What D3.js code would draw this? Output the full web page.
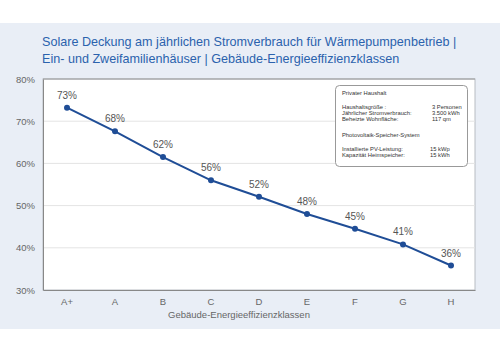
<!DOCTYPE html>
<html>
<head>
<meta charset="utf-8">
<script src="https://cdn.jsdelivr.net/npm/d3@7"></script>
<style>
  body { margin: 0; background: #fff; }
  svg { display: block; font-family: "Liberation Sans", Arial, sans-serif; }
</style>
</head>
<body>
<svg id="chart" width="500" height="353"></svg>
<script>
var classes = ["A+", "A", "B", "C", "D", "E", "F", "G", "H"];
var deckung = [73.2, 67.6, 61.5, 56.0, 52.1, 48.0, 44.5, 40.8, 35.8];
var yTicks = [30, 40, 50, 60, 70, 80];
var titleLines = ["Solare Deckung am jährlichen Stromverbrauch für Wärmepumpenbetrieb |",
                  "Ein- und Zweifamilienhäuser | Gebäude-Energieeffizienzklassen"];
var infoRows = [
  ["Privater Haushalt", ""],
  ["Haushaltsgröße   :", "3 Personen"],
  ["Jährlicher Stromverbrauch:", "3.500 kWh"],
  ["Beheizte Wohnfläche:", "117 qm"],
  ["Photovoltaik-Speicher-System", ""],
  ["Installierte PV-Leistung:", "15 kWp"],
  ["Kapazität Heimspeicher:", "15 kWh"]
];
var infoY = [95, 109, 115, 121, 137, 151, 157];

var svg = d3.select("#chart");
var plotL = 43, plotR = 475, plotT = 79, plotB = 290;

// background panel
svg.append("rect").attr("x", 0).attr("y", 23).attr("width", 500).attr("height", 306)
    .attr("fill", "#e9eef6");

svg.append("g").selectAll("text")
    .data(titleLines)
    .enter().append("text")
    .attr("x", 42)
    .attr("y", function(d, i) { return 46 + i * 17; })
    .attr("fill", "#2b62ad")
    .style("font-size", "12.6px")
    .text(function(d) { return d; });

var x = d3.scaleBand().domain(classes).range([plotL, plotR]);
var y = d3.scaleLinear().domain([30, 80]).range([plotB, plotT]);

svg.append("rect").attr("x", plotL).attr("y", plotT)
    .attr("width", plotR - plotL).attr("height", plotB - plotT)
    .attr("fill", "#fff").attr("stroke", "#b8bcc2").attr("stroke-width", 1);

// grid
svg.append("g").selectAll("line")
    .data(yTicks.slice(1, -1))
    .enter().append("line")
    .attr("x1", plotL).attr("x2", plotR)
    .attr("y1", function(d) { return y(d); })
    .attr("y2", function(d) { return y(d); })
    .attr("stroke", "#e4e4e4");

svg.append("line").attr("x1", plotL).attr("x2", plotR).attr("y1", plotT).attr("y2", plotT)
    .attr("stroke", "#999");

var yAxis = svg.append("g")
    .attr("transform", "translate(" + plotL + ",0)")
    .call(d3.axisLeft(y).tickValues(yTicks).tickSize(0).tickPadding(8)
        .tickFormat(function(d) { return d + "%"; }));
yAxis.select(".domain").attr("stroke", "#888");
yAxis.selectAll("text").attr("fill", "#666").style("font-size", "9.5px");

var xAxis = svg.append("g")
    .attr("transform", "translate(0," + plotB + ")")
    .call(d3.axisBottom(x).tickSize(0).tickPadding(8));
xAxis.select(".domain").attr("stroke", "#888");
xAxis.selectAll("text").attr("fill", "#666").style("font-size", "9.5px");

svg.append("text")
    .attr("x", 239).attr("y", 318)
    .attr("text-anchor", "middle")
    .attr("fill", "#666")
    .style("font-size", "9.5px")
    .text("Gebäude-Energieeffizienzklassen");

var pts = classes.map(function(c, i) { return { c: c, v: deckung[i] }; });

svg.append("path")
    .datum(pts)
    .attr("fill", "none")
    .attr("stroke", "#1f4d96")
    .attr("stroke-width", 2)
    .attr("d", d3.line()
        .x(function(d) { return x(d.c) + x.bandwidth() / 2; })
        .y(function(d) { return y(d.v); }));

svg.append("g").selectAll("circle")
    .data(pts)
    .enter().append("circle")
    .attr("cx", function(d) { return x(d.c) + x.bandwidth() / 2; })
    .attr("cy", function(d) { return y(d.v); })
    .attr("r", 3)
    .attr("fill", "#1f4d96");

svg.append("g").selectAll("text")
    .data(pts)
    .enter().append("text")
    .attr("x", function(d) { return x(d.c) + x.bandwidth() / 2; })
    .attr("y", function(d) { return y(d.v) - 9; })
    .attr("text-anchor", "middle")
    .attr("fill", "#555")
    .style("font-size", "10px")
    .text(function(d) { return Math.round(d.v) + "%"; });

// info box
svg.append("rect").attr("x", 335.5).attr("y", 85.5).attr("width", 132).attr("height", 81)
    .attr("rx", 4).attr("fill", "#fff").attr("stroke", "#999");

var info = svg.append("g").selectAll("g")
    .data(infoRows)
    .enter().append("g");
info.append("text")
    .attr("x", 342)
    .attr("y", function(d, i) { return infoY[i]; })
    .attr("fill", "#333")
    .style("font-size", "5.8px")
    .text(function(d) { return d[0]; });
info.append("text")
    .attr("x", function(d, i) { return i >= 5 ? 430 : 432; })
    .attr("y", function(d, i) { return infoY[i]; })
    .attr("fill", "#333")
    .style("font-size", "5.8px")
    .text(function(d) { return d[1]; });
</script>
</body>
</html>
